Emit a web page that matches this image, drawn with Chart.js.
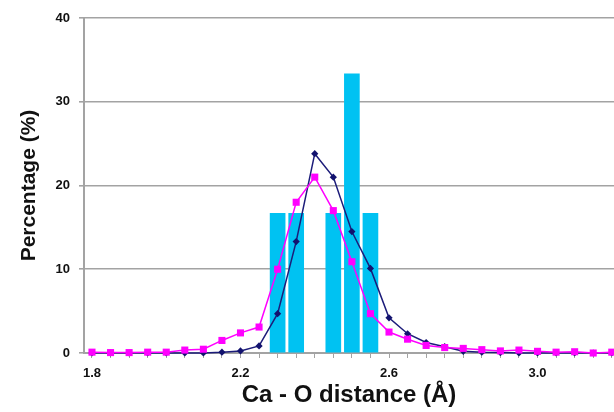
<!DOCTYPE html>
<html>
<head>
<meta charset="utf-8">
<script src="https://cdn.jsdelivr.net/npm/chart.js@4"></script>
<style>
  html, body { margin: 0; padding: 0; background: #ffffff; }
  #wrap { width: 614px; height: 412px; }
</style>
</head>
<body>
<div id="wrap"><canvas id="c" width="614" height="412"></canvas></div>
<script>
// Ca - O distance grid (Å), one point every 0.05 Å
const distances = [1.8, 1.85, 1.9, 1.95, 2.0, 2.05, 2.1, 2.15, 2.2, 2.25, 2.3, 2.35, 2.4, 2.45,
  2.5, 2.55, 2.6, 2.65, 2.7, 2.75, 2.8, 2.85, 2.9, 2.95, 3.0, 3.05, 3.1, 3.15, 3.2];

// distribution curves (%)
const navySeries = [0, 0, 0, 0, 0, 0, 0, 0.1, 0.25, 0.85, 4.7, 13.3, 23.8, 21.0,
  14.5, 10.1, 4.2, 2.3, 1.25, 0.75, 0.2, 0.1, 0.05, 0, 0, 0, 0, 0, 0];
const pinkSeries = [0.1, 0.05, 0.05, 0.1, 0.1, 0.35, 0.45, 1.5, 2.4, 3.1, 10.0, 18.0, 21.0, 17.0,
  10.9, 4.7, 2.5, 1.65, 0.9, 0.65, 0.55, 0.4, 0.25, 0.35, 0.2, 0.1, 0.15, 0.0, 0.1];

// histogram bars (%)
const barDistances = [2.3, 2.35, 2.45, 2.5, 2.55];
const barPercent = [16.67, 16.67, 16.67, 33.33, 16.67];

// labelled x ticks and y ticks
const xTickLabels = [1.8, 2.2, 2.6, 3.0];
const yTicks = [0, 10, 20, 30, 40];

const grey = '#a3a3a3';
const tickFont = { family: 'Liberation Sans, Arial, sans-serif', size: 13, weight: 'bold' };

const toPoints = (xs, ys) => xs.map((x, i) => ({ x: x, y: ys[i] }));

new Chart(document.getElementById('c'), {
  type: 'bar',
  data: {
    datasets: [
      {
        type: 'line',
        data: toPoints(distances, pinkSeries),
        borderColor: '#ff00ff',
        backgroundColor: '#ff00ff',
        borderWidth: 1.5,
        pointStyle: 'rect',
        pointRadius: 5,
        pointBorderWidth: 0,
        tension: 0,
        clip: false,
        order: 1
      },
      {
        type: 'line',
        data: toPoints(distances, navySeries),
        borderColor: '#1c1c7a',
        backgroundColor: '#12126e',
        borderWidth: 1.5,
        pointStyle: 'rectRot',
        pointRadius: 3.6,
        pointBorderWidth: 0,
        tension: 0,
        clip: false,
        order: 2
      },
      {
        type: 'bar',
        data: toPoints(barDistances, barPercent),
        backgroundColor: '#00c2f2',
        borderWidth: 0,
        barThickness: 15,
        order: 3
      }
    ]
  },
  options: {
    responsive: false,
    animation: false,
    layout: { autoPadding: false, padding: { top: 18, left: 0, right: 0, bottom: 0 } },
    plugins: { legend: { display: false }, tooltip: { enabled: false } },
    scales: {
      x: {
        type: 'linear',
        offset: false,
        min: 1.7785,
        max: 3.206,
        afterBuildTicks: (scale) => { scale.ticks = distances.map(v => ({ value: v })); },
        afterFit: (scale) => {
          scale.height = 59;
          scale.paddingLeft = 0;
          scale.paddingRight = 0;
        },
        ticks: {
          autoSkip: false,
          maxRotation: 0,
          padding: 8,
          color: '#111111',
          font: tickFont,
          callback: (v) => xTickLabels.some(t => Math.abs(t - v) < 1e-6) ? v.toFixed(1) : ''
        },
        grid: {
          drawOnChartArea: false,
          offset: false,
          color: grey,
          lineWidth: 1,
          tickLength: 5
        },
        border: { color: grey, width: 2 },
        title: {
          display: true,
          text: 'Ca - O distance (Å)',
          color: '#111111',
          font: { family: 'Liberation Sans, Arial, sans-serif', size: 24, weight: 'bold' },
          padding: { top: 0, bottom: 2 }
        }
      },
      y: {
        min: 0,
        max: 40,
        afterBuildTicks: (scale) => { scale.ticks = yTicks.map(v => ({ value: v })); },
        afterFit: (scale) => { scale.width = 84; },
        ticks: {
          padding: 9,
          color: '#111111',
          font: tickFont
        },
        grid: {
          color: grey,
          lineWidth: 1.6,
          tickLength: 5
        },
        border: { color: grey, width: 2 },
        title: {
          display: true,
          text: 'Percentage (%)',
          color: '#111111',
          font: { family: 'Liberation Sans, Arial, sans-serif', size: 21, weight: 'bold' },
          padding: { top: 17, bottom: 0 }
        }
      }
    }
  }
});
</script>
</body>
</html>
